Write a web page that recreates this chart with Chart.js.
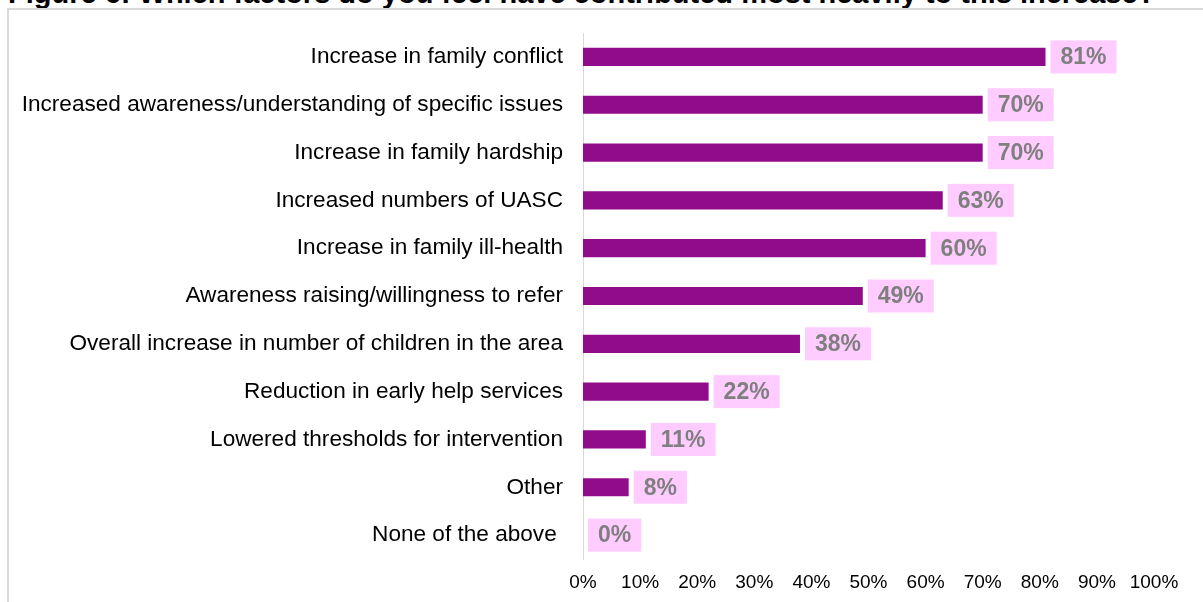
<!DOCTYPE html>
<html>
<head>
<meta charset="utf-8">
<script src="https://cdn.jsdelivr.net/npm/chart.js@4.4.1/dist/chart.umd.min.js"></script>
<style>
  html, body { margin: 0; padding: 0; background: #fff; overflow: hidden; }
  body { width: 1203px; height: 602px; position: relative; font-family: "Liberation Sans", Arial, sans-serif; }
  #title {
    position: absolute; left: 8px; top: -21px; white-space: nowrap;
    font-weight: bold; font-size: 29px; line-height: 29px; color: #000;
  }
  #frame {
    position: absolute; left: 7px; top: 8px; width: 1196px; height: 594px;
    border-left: 2px solid #d9d9d9; border-top: 2px solid #d9d9d9;
    background: #fff;
  }
  #wrap { position: absolute; left: 0; top: 0; width: 1194px; height: 592px; }
</style>
</head>
<body>
<div id="title">Figure 6: Which factors do you feel have contributed most heavily to this increase?</div>
<div id="frame">
  <div id="wrap"><canvas id="factorsChart"></canvas></div>
</div>
<script>
// factors, top to bottom
const factorLabels = [
  'Increase in family conflict',
  'Increased awareness/understanding of specific issues',
  'Increase in family hardship',
  'Increased numbers of UASC',
  'Increase in family ill-health',
  'Awareness raising/willingness to refer',
  'Overall increase in number of children in the area',
  'Reduction in early help services',
  'Lowered thresholds for intervention',
  'Other',
  'None of the above '
];
// share of respondents, %
const factorValues = [81, 70, 70, 63, 60, 49, 38, 22, 11, 8, 0];
const axisTicks = [0, 10, 20, 30, 40, 50, 60, 70, 80, 90, 100];

const barColor = '#900c8b';
const labelBg = '#ffccff';
const labelColor = '#7f7f7f';

// pink value boxes at the end of each bar
const valueBoxes = {
  id: 'valueBoxes',
  afterDatasetsDraw(chart) {
    const ctx = chart.ctx;
    const meta = chart.getDatasetMeta(0);
    ctx.save();
    ctx.font = 'bold 23px "Liberation Sans", Arial, sans-serif';
    ctx.textAlign = 'center';
    ctx.textBaseline = 'middle';
    meta.data.forEach((bar, i) => {
      const text = factorValues[i] + '%';
      const w = ctx.measureText(text).width + 20;
      const h = 33;
      const left = bar.x + 5;
      const top = bar.y - h / 2;
      ctx.fillStyle = labelBg;
      ctx.fillRect(left, top, w, h);
      ctx.fillStyle = labelColor;
      ctx.fillText(text, left + w / 2, bar.y + 1);
    });
    ctx.restore();
  }
};

const ctx = document.getElementById('factorsChart').getContext('2d');
new Chart(ctx, {
  type: 'bar',
  data: {
    labels: factorLabels,
    datasets: [{
      data: factorValues,
      backgroundColor: barColor,
      borderWidth: 0,
      barPercentage: 0.38,
      categoryPercentage: 1
    }]
  },
  options: {
    indexAxis: 'y',
    responsive: true,
    maintainAspectRatio: false,
    animation: false,
    layout: { padding: { top: 23, right: 49, bottom: 0, left: 0 } },
    plugins: {
      legend: { display: false },
      tooltip: { enabled: false }
    },
    scales: {
      x: {
        min: 0,
        max: 100,
        afterBuildTicks(scale) {
          scale.ticks = axisTicks.map(v => ({ value: v }));
        },
        afterFit(scale) { scale.height = 43; },
        grid: { display: false, drawTicks: false },
        border: { display: false },
        ticks: {
          padding: 12,
          color: '#000',
          font: { family: '"Liberation Sans", Arial, sans-serif', size: 19 },
          callback: v => v + '%'
        }
      },
      y: {
        afterFit(scale) {
          scale.width = 574;
          // labels sit in band centres, no extra room needed above/below
          scale.paddingTop = 0;
          scale.paddingBottom = 0;
        },
        grid: { display: false, drawTicks: false },
        border: { display: true, color: '#d9d9d9', width: 1 },
        ticks: {
          padding: 20,
          color: '#000',
          font: { family: '"Liberation Sans", Arial, sans-serif', size: 22.6 }
        }
      }
    }
  },
  plugins: [valueBoxes]
});
</script>
</body>
</html>
